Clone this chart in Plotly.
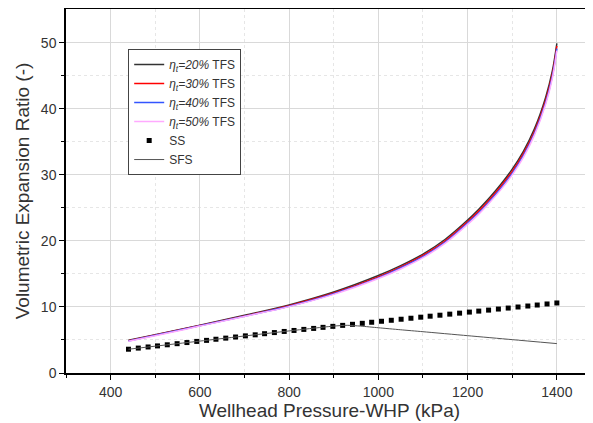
import plotly.graph_objects as go

# TFS curves
x_tfs = [440, 500, 600, 700, 800, 900, 1000, 1050, 1100, 1150, 1200, 1225, 1250, 1275,
         1300, 1325, 1350, 1375, 1390, 1400]
tfs20 = [4.95, 5.8, 7.25, 8.75, 10.3, 12.25, 14.75, 16.25, 18.0, 20.25, 23.15, 24.8, 26.6,
         28.6, 30.85, 33.55, 37.0, 41.75, 45.75, 49.9]
tfs30 = [4.9, 5.75, 7.2, 8.65, 10.2, 12.1, 14.55, 16.05, 17.8, 20.0, 22.9, 24.5, 26.3,
         28.3, 30.5, 33.2, 36.6, 41.3, 45.3, 49.5]
tfs40 = [4.85, 5.7, 7.15, 8.6, 10.1, 12.0, 14.4, 15.9, 17.6, 19.8, 22.7, 24.25, 26.05,
         28.0, 30.2, 32.9, 36.3, 40.95, 44.95, 49.1]
tfs50 = [4.8, 5.65, 7.1, 8.55, 10.05, 11.9, 14.3, 15.75, 17.45, 19.65, 22.5, 24.05, 25.85,
         27.8, 30.0, 32.65, 36.05, 40.7, 44.65, 48.8]

# SS points
x_ss = [440, 462, 484, 505, 527, 549, 571, 593, 615, 636, 658, 680, 702, 724, 745,
        767, 789, 811, 833, 855, 876, 898, 920, 942, 964, 985, 1007, 1029, 1051, 1073,
        1095, 1116, 1138, 1160, 1182, 1204, 1225, 1247, 1269, 1291, 1313, 1335, 1356, 1378, 1400]
ss = [3.6, 3.77, 3.94, 4.1, 4.27, 4.44, 4.61, 4.78, 4.94, 5.11, 5.28, 5.45, 5.62, 5.78, 5.95,
      6.12, 6.29, 6.44, 6.6, 6.75, 6.91, 7.06, 7.21, 7.37, 7.52, 7.68, 7.83, 7.98, 8.14, 8.29,
      8.45, 8.6, 8.75, 8.91, 9.06, 9.22, 9.37, 9.52, 9.68, 9.83, 9.99, 10.14, 10.29, 10.45, 10.6]

# SFS line
x_sfs = [440, 600, 800, 900, 930, 960, 1000, 1049, 1100, 1200, 1300, 1400]
sfs = [3.6, 4.83, 6.37, 7.1, 7.22, 7.1, 6.85, 6.55, 6.25, 5.65, 5.05, 4.45]

FONT = "Liberation Sans, Arial"

fig = go.Figure()
tfs_style = [("<i>η<sub>t</sub>=20%</i> TFS", tfs20, "#333333"),
             ("<i>η<sub>t</sub>=30%</i> TFS", tfs30, "#ff0000"),
             ("<i>η<sub>t</sub>=40%</i> TFS", tfs40, "#3355ff"),
             ("<i>η<sub>t</sub>=50%</i> TFS", tfs50, "#ffaaff")]
for name, ys, col in tfs_style:
    fig.add_trace(go.Scatter(x=x_tfs, y=ys, mode="lines", name=name,
                             line=dict(color=col, width=1.5, shape="spline", smoothing=1.0)))
fig.add_trace(go.Scatter(x=x_ss, y=ss, mode="markers", name="SS",
                         marker=dict(symbol="square", size=5, color="black")))
fig.add_trace(go.Scatter(x=x_sfs, y=sfs, mode="lines", name="SFS",
                         line=dict(color="#555555", width=1, shape="spline", smoothing=0.6)))

axis_common = dict(showline=True, linecolor="black", linewidth=1.5, ticks="outside",
                   ticklen=5, tickcolor="black", showgrid=True, gridcolor="#d9d9d9",
                   gridwidth=1, zeroline=False, automargin=False,
                   tickfont=dict(family=FONT, size=14, color="#333333"),
                   title_font=dict(family=FONT, size=19, color="#333333"))

fig.update_xaxes(range=[300, 1481], tickvals=[400, 600, 800, 1000, 1200, 1400],
                 mirror=True, title_text="Wellhead Pressure-WHP (kPa)", title_standoff=2,
                 minor=dict(tickvals=[300, 500, 700, 900, 1100, 1300], ticks="outside",
                            ticklen=3, tickcolor="black", showgrid=True,
                            gridcolor="#e6e6e6", griddash="dot"),
                 **axis_common)
fig.update_yaxes(range=[0, 55.1], tickvals=[0, 10, 20, 30, 40, 50],
                 title_text="Volumetric Expansion Ratio (-)", title_standoff=6,
                 minor=dict(tickvals=[5, 15, 25, 35, 45], ticks="outside",
                            ticklen=3, tickcolor="black", showgrid=True,
                            gridcolor="#e6e6e6", griddash="dot"),
                 **axis_common)

# page body adds an 8px offset; margins compensate so the plot lands where the reference has it
fig.update_layout(width=593, height=423, margin=dict(l=58, r=8, t=1, b=58),
                  plot_bgcolor="white", paper_bgcolor="white",
                  font=dict(family=FONT, color="#333333"),
                  legend=dict(x=0.118, y=0.89, xanchor="left", yanchor="top",
                              bordercolor="#444444", borderwidth=1, bgcolor="white",
                              font=dict(size=12, color="#333333"), itemwidth=30,
                              tracegroupgap=0))

fig.write_html("out.html")
